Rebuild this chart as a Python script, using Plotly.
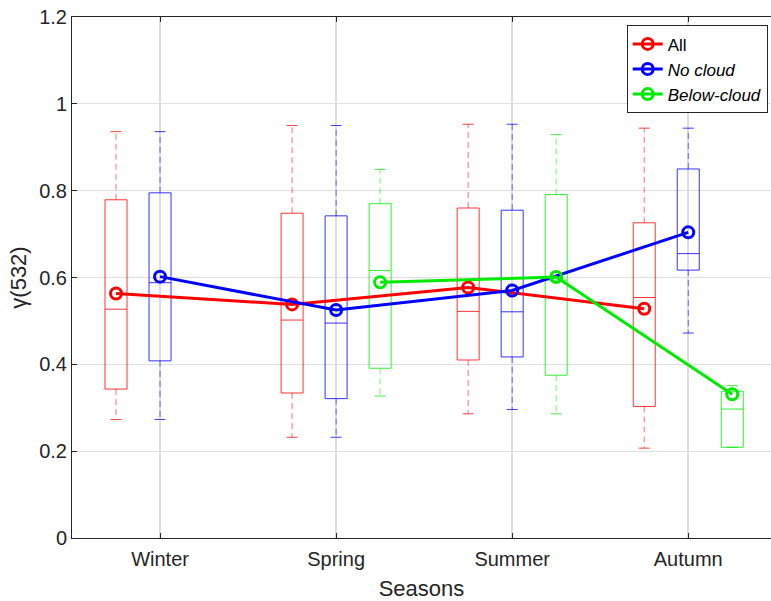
import plotly.graph_objects as go

# Seasonal distributions of gamma(532) for three sampling conditions
seasons = ["Winter", "Spring", "Summer", "Autumn"]

all_upper = [0.936, 0.950, 0.953, 0.944]
all_q3 = [0.779, 0.748, 0.760, 0.726]
all_median = [0.527, 0.502, 0.522, 0.554]
all_q1 = [0.343, 0.334, 0.410, 0.303]
all_lower = [0.273, 0.232, 0.286, 0.207]
all_mean = [0.563, 0.538, 0.577, 0.528]

nocloud_upper = [0.936, 0.950, 0.953, 0.944]
nocloud_q3 = [0.795, 0.742, 0.755, 0.850]
nocloud_median = [0.588, 0.495, 0.521, 0.655]
nocloud_q1 = [0.408, 0.321, 0.417, 0.617]
nocloud_lower = [0.273, 0.232, 0.296, 0.472]
nocloud_mean = [0.602, 0.525, 0.570, 0.704]

# no below-cloud samples in winter
below_upper = [None, 0.849, 0.929, 0.351]
below_q3 = [None, 0.770, 0.791, 0.338]
below_median = [None, 0.616, 0.594, 0.297]
below_q1 = [None, 0.391, 0.375, 0.209]
below_lower = [None, 0.327, 0.286, 0.209]
below_mean = [None, 0.589, 0.601, 0.331]

groups = [
    ("All", "All", (255, 0, 0), -0.25,
     all_upper, all_q3, all_median, all_q1, all_lower, all_mean),
    ("No cloud", "<i>No cloud</i>", (0, 0, 255), 0.0,
     nocloud_upper, nocloud_q3, nocloud_median, nocloud_q1, nocloud_lower, nocloud_mean),
    ("Below-cloud", "<i>Below-cloud</i>", (0, 235, 0), 0.25,
     below_upper, below_q3, below_median, below_q1, below_lower, below_mean),
]

BOX_W = 0.125
CAP_W = 0.0625
FONT = "Liberation Sans, Arial, Helvetica, sans-serif"
INK = "#262626"


def rgba(c, a):
    return "rgba(%d,%d,%d,%.2f)" % (c[0], c[1], c[2], a)


fig = go.Figure()

# boxes, whiskers and caps
for key, label, col, off, up, q3, med, q1, lo, mean in groups:
    idx = [i for i in range(len(seasons)) if med[i] is not None]
    xs = [i + 1 + off for i in idx]
    fig.add_trace(go.Box(
        x=xs,
        q1=[q1[i] for i in idx], median=[med[i] for i in idx], q3=[q3[i] for i in idx],
        lowerfence=[q1[i] for i in idx], upperfence=[q3[i] for i in idx],
        width=BOX_W, whiskerwidth=0,
        line=dict(color=rgba(col, 0.8), width=1),
        fillcolor="rgba(0,0,0,0)",
        boxpoints=False, showlegend=False, hoverinfo="skip",
    ))
    wx, wy, cx, cy = [], [], [], []
    for i, x in zip(idx, xs):
        wx += [x, x, None, x, x, None]
        wy += [q3[i], up[i], None, q1[i], lo[i], None]
        for v in (up[i], lo[i]):
            cx += [x - CAP_W / 2, x + CAP_W / 2, None]
            cy += [v, v, None]
    fig.add_trace(go.Scatter(
        x=wx, y=wy, mode="lines",
        line=dict(color=rgba(col, 0.55), width=1, dash="6px,4px"),
        showlegend=False, hoverinfo="skip",
    ))
    fig.add_trace(go.Scatter(
        x=cx, y=cy, mode="lines",
        line=dict(color=rgba(col, 0.75), width=1),
        showlegend=False, hoverinfo="skip",
    ))

# seasonal means joined across seasons
for key, label, col, off, up, q3, med, q1, lo, mean in groups:
    idx = [i for i in range(len(seasons)) if mean[i] is not None]
    fig.add_trace(go.Scatter(
        x=[i + 1 + off for i in idx], y=[mean[i] for i in idx],
        mode="lines+markers", name=label,
        line=dict(color=rgba(col, 1), width=3),
        marker=dict(symbol="circle-open", size=11, color=rgba(col, 1),
                    line=dict(width=3, color=rgba(col, 1))),
    ))

fig.update_layout(
    width=771, height=601,
    margin=dict(l=72, r=0, t=17, b=63),
    paper_bgcolor="white", plot_bgcolor="white",
    font=dict(family=FONT, size=18, color=INK),
    showlegend=True,
    legend=dict(
        x=0.9953, y=0.984, xanchor="right", yanchor="top",
        bgcolor="white", bordercolor=INK, borderwidth=1,
        font=dict(family=FONT, size=17, color="black"),
        tracegroupgap=0, itemwidth=30,
    ),
)

fig.update_xaxes(
    range=[0.5, 4.47],
    tickmode="array", tickvals=[1, 2, 3, 4], ticktext=seasons,
    ticks="inside", ticklen=5, tickcolor=INK,
    showline=True, linecolor=INK, linewidth=1, mirror="ticks",
    showgrid=True, gridcolor="#dedede", gridwidth=2,
    zeroline=False,
    tickfont=dict(family=FONT, size=20, color=INK),
    ticklabelstandoff=3,
    title=dict(text="Seasons", font=dict(family=FONT, size=22, color=INK), standoff=12),
)

fig.update_yaxes(
    range=[0, 1.2], dtick=0.2, tick0=0,
    ticks="inside", ticklen=5, tickcolor=INK,
    showline=True, linecolor=INK, linewidth=1,
    showgrid=True, gridcolor="#e0e0e0", gridwidth=1,
    zeroline=False,
    tickfont=dict(family=FONT, size=20, color=INK),
    title=dict(text="γ(532)", font=dict(family=FONT, size=22, color=INK), standoff=6),
)

fig.write_html("out.html")
